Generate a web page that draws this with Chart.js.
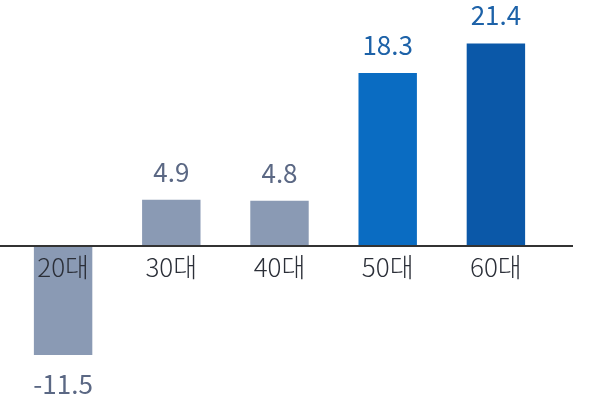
<!DOCTYPE html>
<html>
<head>
<meta charset="utf-8">
<script src="https://cdn.jsdelivr.net/npm/chart.js@4"></script>
<style>
  html, body { margin: 0; padding: 0; background: #fff; }
  #wrap { width: 600px; height: 407px; }
</style>
</head>
<body>
<div id="wrap"><canvas id="ageChart"></canvas></div>
<script>
const categories = ["20대", "30대", "40대", "50대", "60대"];
const values = [-11.5, 4.9, 4.8, 18.3, 21.4];

const barColors = ["#8a9ab4", "#8a9ab4", "#8a9ab4", "#0a6cc2", "#0b58a8"];
const labelColors = ["#5b6884", "#5b6884", "#5b6884", "#1d62a8", "#1d62a8"];
const FONT = '"Noto Sans CJK KR", "Noto Sans", sans-serif';

// zero line + category names sitting on it + value labels
const labelPlugin = {
  id: "labels",
  afterDatasetsDraw(chart) {
    const ctx = chart.ctx;
    const x = chart.scales.x;
    const y = chart.scales.y;
    const y0 = y.getPixelForValue(0);

    ctx.save();
    ctx.strokeStyle = "#333";
    ctx.lineWidth = 2;
    ctx.beginPath();
    ctx.moveTo(0, y0);
    ctx.lineTo(573, y0);
    ctx.stroke();

    ctx.textAlign = "center";
    ctx.textBaseline = "middle";
    const meta = chart.getDatasetMeta(0);
    categories.forEach((c, i) => {
      const cx = x.getPixelForValue(i);
      ctx.font = "300 26px " + FONT;
      ctx.fillStyle = "#2b2f38";
      ctx.fillText(c, cx, y0 + 21);

      const v = values[i];
      const by = meta.data[i].y;
      ctx.font = "400 26px " + FONT;
      ctx.fillStyle = labelColors[i];
      ctx.fillText(v.toFixed(1), cx, v >= 0 ? by - 28 : by + 29);
    });
    ctx.restore();
  }
};

new Chart(document.getElementById("ageChart"), {
  type: "bar",
  data: {
    labels: categories,
    datasets: [{
      data: values,
      backgroundColor: barColors,
      borderWidth: 0,
      barPercentage: 0.54,
      categoryPercentage: 1
    }]
  },
  options: {
    responsive: true,
    maintainAspectRatio: false,
    animation: false,
    layout: { padding: { left: 9, right: 50, top: 0, bottom: 0 } },
    plugins: { legend: { display: false }, tooltip: { enabled: false } },
    scales: {
      x: { display: false },
      y: { display: false, min: -17, max: 26 }
    }
  },
  plugins: [labelPlugin]
});
</script>
</body>
</html>
